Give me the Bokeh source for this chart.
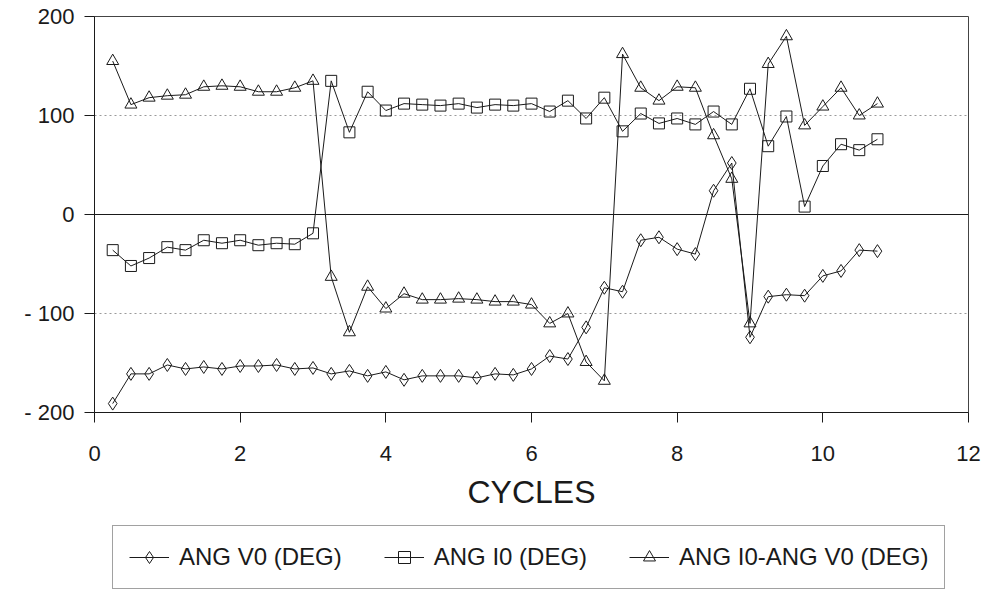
from bokeh.plotting import figure
from bokeh.models import Range1d, FixedTicker, Span, Legend, LegendItem
from bokeh.layouts import column
from bokeh.embed import file_html
from bokeh.resources import INLINE

cycles = [0.25, 0.5, 0.75, 1.0, 1.25, 1.5, 1.75, 2.0, 2.25, 2.5, 2.75, 3.0,
          3.25, 3.5, 3.75, 4.0, 4.25, 4.5, 4.75, 5.0, 5.25, 5.5, 5.75, 6.0,
          6.25, 6.5, 6.75, 7.0, 7.25, 7.5, 7.75, 8.0, 8.25, 8.5, 8.75, 9.0,
          9.25, 9.5, 9.75, 10.0, 10.25, 10.5, 10.75]

ang_v0 = [-191, -161, -161, -152, -156, -154, -156, -153, -153, -152, -156, -155,
          -161, -158, -163, -159, -167, -163, -163, -163, -165, -161, -162, -156,
          -143, -146, -114, -74, -78, -26, -23, -35, -40, 24, 52, -124,
          -83, -81, -82, -62, -57, -36, -37]

ang_i0 = [-36, -52, -44, -33, -36, -26, -29, -26, -31, -29, -30, -19,
          135, 83, 124, 105, 112, 111, 110, 112, 108, 111, 110, 112,
          104, 115, 97, 118, 84, 102, 92, 97, 91, 104, 91, 127,
          69, 99, 8, 49, 71, 65, 76]

ang_diff = [155, 111, 118, 120, 121, 129, 130, 129, 124, 124, 128, 135,
            -63, -119, -73, -95, -80, -86, -86, -85, -86, -88, -88, -91,
            -110, -100, -149, -168, 162, 128, 115, 129, 128, 80, 36, -110,
            152, 180, 90, 109, 128, 100, 112]

series_labels = ["ANG V0 (DEG)", "ANG I0 (DEG)", "ANG I0-ANG V0 (DEG)"]
x_ticks = [0, 2, 4, 6, 8, 10, 12]
y_ticks = [-200, -100, 0, 100, 200]
y_tick_labels = ["- 200", "- 100", "0", "100", "200"]
grid_levels = [-100, 100]
x_label = "CYCLES"

FONT = "Liberation Sans"
INK = "#1a1a1a"
markers = [("diamond", 13), ("square", 11), ("triangle", 12)]

p = figure(width=987, height=517, output_backend="svg",
           toolbar_location=None,
           x_range=Range1d(0, 12), y_range=Range1d(-200, 200),
           min_border_left=94, min_border_right=19, min_border_top=16,
           min_border_bottom=105, background_fill_color="white",
           border_fill_color="white")

p.outline_line_color = "#444"
p.outline_line_width = 1

for ax in (p.xaxis[0], p.yaxis[0]):
    ax.axis_line_color = INK
    ax.major_tick_line_color = INK
    ax.major_tick_in = 0
    ax.major_tick_out = 10
    ax.minor_tick_line_color = None
    ax.major_label_text_font = FONT
    ax.major_label_text_font_size = "22px"
    ax.major_label_text_color = INK

p.xaxis.ticker = FixedTicker(ticks=x_ticks)
p.yaxis.ticker = FixedTicker(ticks=y_ticks)
p.yaxis.major_label_overrides = {t: s for t, s in zip(y_ticks, y_tick_labels)}
p.xaxis.major_label_standoff = 23
p.yaxis.major_label_standoff = 10
p.xaxis.axis_label = x_label
p.xaxis.axis_label_text_font = FONT
p.xaxis.axis_label_text_font_size = "32px"
p.xaxis.axis_label_text_font_style = "normal"
p.xaxis.axis_label_text_color = INK
p.xaxis.axis_label_standoff = 10

p.xgrid.visible = False
p.ygrid.ticker = FixedTicker(ticks=grid_levels)
p.ygrid.grid_line_color = "#9a9a9a"
p.ygrid.grid_line_dash = "2 3"
p.ygrid.grid_line_width = 1

p.add_layout(Span(location=0, dimension="width", line_color=INK, line_width=1.2))

for ys, (marker, size) in zip([ang_v0, ang_i0, ang_diff], markers):
    p.line(cycles, ys, line_color=INK, line_width=1)
    p.scatter(cycles, ys, marker=marker, size=size, line_color=INK,
              line_width=1, fill_color="white", fill_alpha=0)

# legend strip below the chart (its frame is aligned with the chart's frame)
lg = figure(width=987, height=73, output_backend="svg", toolbar_location=None,
            x_range=Range1d(0, 1), y_range=Range1d(0, 1),
            x_axis_location=None, y_axis_location=None,
            min_border_left=94, min_border_right=19, min_border_top=0,
            min_border_bottom=0, background_fill_color="white",
            border_fill_color="white")
lg.outline_line_color = None
lg.xgrid.visible = False
lg.ygrid.visible = False

items = []
for label, (marker, size) in zip(series_labels, markers):
    # off-range stand-ins, only used to draw the legend glyphs
    lr = lg.line([5, 6], [5, 6], line_color=INK, line_width=1)
    sr = lg.scatter([5], [5], marker=marker, size=size, line_color=INK,
                    line_width=1, fill_color="white", fill_alpha=0)
    items.append(LegendItem(label=label, renderers=[lr, sr]))

legend = Legend(items=items, orientation="horizontal", location=(18, 1),
                glyph_width=40, glyph_height=30, label_standoff=10, spacing=42,
                padding=16, margin=0, border_line_color="#444",
                border_line_width=1, background_fill_color="white",
                label_text_font=FONT, label_text_font_size="24px",
                label_text_color=INK)
lg.add_layout(legend, "center")

layout = column(p, lg, spacing=0)
open("out.html", "w").write(file_html(layout, INLINE))
